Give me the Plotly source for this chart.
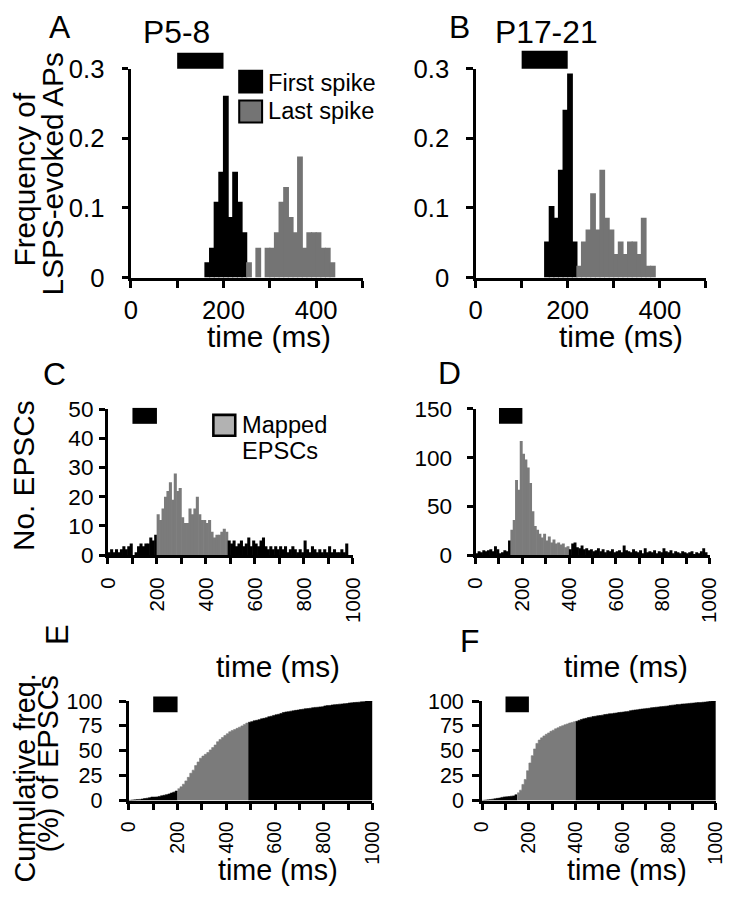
import numpy as np
import plotly.graph_objects as go

FONT = "Liberation Sans, Arial, Helvetica, sans-serif"
W, H = 731, 899

# ---------------- data ----------------
BIN = 10  # ms
stim_on, stim_off = 100, 200

A_first_centers = [165, 175, 185, 195, 205, 215, 225, 235, 245]
A_first_freq = [0.022, 0.043, 0.109, 0.152, 0.261, 0.087, 0.152, 0.109, 0.065]
A_last_centers = [255, 265, 275, 285, 295, 305, 315, 325, 335, 345,
                  355, 365, 375, 385, 395, 405, 415, 425, 435]
A_last_freq = [0.022, 0.0, 0.043, 0.0, 0.043, 0.043, 0.065, 0.109, 0.130, 0.087,
               0.065, 0.174, 0.043, 0.065, 0.065, 0.065, 0.043, 0.043, 0.022]

B_first_centers = [155, 165, 175, 185, 195, 205, 215]
B_first_freq = [0.052, 0.103, 0.086, 0.155, 0.241, 0.293, 0.052]
B_last_centers = [225, 235, 245, 255, 265, 275, 285, 295, 305, 315,
                  325, 335, 345, 355, 365, 375, 385]
B_last_freq = [0.017, 0.052, 0.069, 0.121, 0.069, 0.155, 0.086, 0.069, 0.034, 0.052,
               0.034, 0.052, 0.052, 0.034, 0.086, 0.017, 0.017]

C_pre_start, C_map_start, C_post_start = 0, 200, 490
C_pre = [1, 2, 1, 2, 1, 2, 3, 2, 3, 4, 0, 1, 3, 4, 3, 4, 4, 6, 5, 7]
C_map = [14, 12, 16, 20, 22, 25, 19, 28, 22, 23, 13, 11, 11, 16, 14, 16, 20, 14, 12, 12,
         11, 12, 8, 6, 7, 7, 8, 9, 8]
C_post = [5, 4, 5, 3, 4, 5, 3, 4, 6, 3, 5, 4, 3, 5, 6, 3, 2, 3, 2, 3,
          2, 3, 2, 3, 1, 2, 3, 2, 1, 2, 1, 5, 2, 1, 3, 2, 1, 2, 1, 2,
          1, 3, 1, 2, 1, 1, 2, 1, 4, 0, 0]

D_pre_start, D_map_start, D_post_start = 0, 150, 400
D_pre = [2, 4, 3, 5, 4, 5, 6, 4, 9, 6, 2, 3, 5, 4, 15]
D_map = [26, 36, 77, 67, 117, 104, 98, 90, 74, 45, 30, 26, 22, 18, 22, 15, 19, 13, 16, 12,
         13, 11, 12, 8, 9]
D_post = [6, 12, 13, 8, 7, 10, 6, 7, 5, 6, 4, 5, 7, 4, 6, 3, 5, 4, 6, 3,
          4, 5, 3, 10, 5, 4, 3, 6, 4, 3, 5, 2, 7, 3, 4, 3, 5, 2, 4, 3,
          7, 4, 3, 5, 2, 4, 3, 2, 4, 3, 2, 3, 4, 1, 3, 2, 4, 7, 3, 0]

ticks_500 = [0, 100, 200, 300, 400, 500]
ticks_500_txt = ["0", "", "200", "", "400", ""]
ticks_1000 = list(range(0, 1001, 100))
ticks_1000_txt = [str(v) if v % 200 == 0 else "" for v in ticks_1000]

BLACK = "#000000"
GRAY_AP = "#747474"
GRAY_EP = "#7b7b7b"
GRAY_LEG = "#b2b2b2"
BAR_W = BIN * 1.25

# the photographed page appears slightly shrunk about its centre; layout is
# specified in target-picture pixels and mapped back onto the page.
S, OX, OY = 0.974, 10.5, 11.0


def rx(x):
    return (x - OX) / S


def ry(y):
    return (y - OY) / S


def fs(v):
    return v / S


def px(x):
    return rx(x) / W


def py(y):
    return 1 - ry(y) / H


def centers(start, n):
    return [start + BIN * i + BIN / 2 for i in range(n)]


fig = go.Figure()


def bars(x, y, color, xa, ya):
    fig.add_trace(go.Bar(x=x, y=y, width=BAR_W, marker=dict(color=color, line=dict(width=0)),
                         xaxis=xa, yaxis=ya, showlegend=False, hoverinfo="skip"))


def step_area(start, vals, color, xa, ya):
    edges = [start + BIN * i for i in range(len(vals) + 1)]
    yv = list(vals) + [vals[-1]]
    fig.add_trace(go.Scatter(x=edges, y=yv, mode="lines",
                             line=dict(width=0.6, shape="hv", color=color),
                             fill="tozeroy", fillcolor=color, xaxis=xa, yaxis=ya,
                             showlegend=False, hoverinfo="skip"))


bars(A_first_centers, A_first_freq, BLACK, "x", "y")
bars(A_last_centers, A_last_freq, GRAY_AP, "x", "y")
bars(B_first_centers, B_first_freq, BLACK, "x2", "y2")
bars(B_last_centers, B_last_freq, GRAY_AP, "x2", "y2")
bars(centers(C_pre_start, len(C_pre)), C_pre, BLACK, "x3", "y3")
bars(centers(C_map_start, len(C_map)), C_map, GRAY_EP, "x3", "y3")
bars(centers(C_post_start, len(C_post)), C_post, BLACK, "x3", "y3")
bars(centers(D_pre_start, len(D_pre)), D_pre, BLACK, "x4", "y4")
bars(centers(D_map_start, len(D_map)), D_map, GRAY_EP, "x4", "y4")
bars(centers(D_post_start, len(D_post)), D_post, BLACK, "x4", "y4")


# E, F: cumulative frequency (%) of the C / D histograms
def cumulative(pre, mapped, post, xa, ya, pre_start, map_start, post_start):
    allc = np.array(pre + mapped + post, dtype=float)
    cum = np.cumsum(allc) / allc.sum() * 100
    n1, n2 = len(pre), len(pre) + len(mapped)
    step_area(pre_start, list(cum[:n1]), BLACK, xa, ya)
    step_area(map_start, list(cum[n1:n2]), GRAY_EP, xa, ya)
    step_area(post_start, list(cum[n2:]), BLACK, xa, ya)


cumulative(C_pre, C_map, C_post, "x5", "y5", C_pre_start, C_map_start, C_post_start)
cumulative(D_pre, D_map, D_post, "x6", "y6", D_pre_start, D_map_start, D_post_start)


def xaxis(dom, rng, tv, tt, size, tlen, lw, anchor, angle=0, standoff=2):
    return dict(domain=[px(dom[0]), px(dom[1])], range=rng, tickvals=tv, ticktext=tt,
                ticks="outside", ticklen=fs(tlen), tickwidth=fs(lw), tickcolor="black",
                showline=True, linewidth=fs(lw), linecolor="black", showgrid=False,
                zeroline=False, anchor=anchor, tickangle=angle,
                ticklabelstandoff=int(round(fs(standoff))),
                tickfont=dict(size=fs(size), family=FONT, color="black"), fixedrange=True)


def yaxis(dom, rng, tv, tt, size, tlen, lw, anchor, standoff=2):
    return dict(domain=[py(dom[1]), py(dom[0])], range=rng, tickvals=tv, ticktext=tt,
                ticks="outside", ticklen=fs(tlen), tickwidth=fs(lw), tickcolor="black",
                showline=True, linewidth=fs(lw), linecolor="black", showgrid=False,
                zeroline=False, anchor=anchor, ticklabelstandoff=int(round(fs(standoff))),
                tickfont=dict(size=fs(size), family=FONT, color="black"), fixedrange=True)


yt_ap = [0, 0.1, 0.2, 0.3]
yt_ap_txt = ["0", "0.1", "0.2", "0.3"]

fig.update_layout(
    xaxis=xaxis((130, 363), [0, 500], ticks_500, ticks_500_txt, 25, 7, 3, "y", standoff=0),
    yaxis=yaxis((66, 276), [0, 0.3], yt_ap, yt_ap_txt, 25, 6, 3, "x", standoff=12),
    xaxis2=xaxis((476.7, 708.3), [0, 500], ticks_500, ticks_500_txt, 25, 7, 3, "y2", standoff=0),
    yaxis2=yaxis((66, 276), [0, 0.3], yt_ap, yt_ap_txt, 25, 6, 3, "x2", standoff=12),
    xaxis3=xaxis((107, 353.3), [0, 1000], ticks_1000, ticks_1000_txt, 20, 6, 2.5, "y3", -90, 5),
    yaxis3=yaxis((408.3, 555), [0, 50], [0, 10, 20, 30, 40, 50],
                 ["0", "10", "20", "30", "40", "50"], 22, 6, 2.5, "x3", 1),
    xaxis4=xaxis((476.7, 712), [0, 1000], ticks_1000, ticks_1000_txt, 20, 6, 2.5, "y4", -90, 5),
    yaxis4=yaxis((408, 555), [0, 150], [0, 50, 100, 150], ["0", "50", "100", "150"],
                 22, 6, 2.5, "x4", 10),
    xaxis5=xaxis((128, 373), [0, 1000], ticks_1000, ticks_1000_txt, 19, 7, 2.5, "y5", -90, 3),
    yaxis5=yaxis((701.7, 801.7), [0, 100], [0, 25, 50, 75, 100],
                 ["0", "25", "50", "75", "100"], 21, 7, 2.5, "x5", 12),
    xaxis6=xaxis((483.3, 718.3), [0, 1000], ticks_1000, ticks_1000_txt, 19, 7, 2.5, "y6", -90, 3),
    yaxis6=yaxis((701.7, 801.7), [0, 100], [0, 25, 50, 75, 100],
                 ["0", "25", "50", "75", "100"], 21, 7, 2.5, "x6", 4),
    barmode="overlay",
    width=W, height=H,
    margin=dict(l=0, r=0, t=0, b=0),
    paper_bgcolor="white", plot_bgcolor="white",
    showlegend=False,
    font=dict(family=FONT, color="black"),
)

stim_rows = [("x", 50, 66), ("x2", 48, 66), ("x3", 407, 423), ("x4", 407, 423),
             ("x5", 697, 713), ("x6", 697, 713)]
shapes = []
for xa, top, bot in stim_rows:
    shapes.append(dict(type="rect", xref=xa, yref="paper", x0=stim_on, x1=stim_off,
                       y0=py(bot), y1=py(top), fillcolor="black", line=dict(width=0)))


def swatch(x0, x1, top, bot, color, lw):
    shapes.append(dict(type="rect", xref="paper", yref="paper", x0=px(x0), x1=px(x1),
                       y0=py(bot), y1=py(top), fillcolor=color,
                       line=dict(color="black", width=fs(lw))))


swatch(239, 262, 68, 90, BLACK, 2)
swatch(239, 262, 98, 120, GRAY_AP, 2)
swatch(213, 235, 414, 435, GRAY_LEG, 2.5)
fig.update_layout(shapes=shapes)


def txt(s, x, y, size, angle=0, xanchor="center", page=False):
    xx = x / W if page else px(x)
    yy = (1 - y / H) if page else py(y)
    fig.add_annotation(text=s, x=xx, y=yy, xref="paper", yref="paper",
                       showarrow=False, textangle=angle, xanchor=xanchor, yanchor="middle",
                       font=dict(size=fs(size), family=FONT, color="black"))


txt("A", 59, 24, 31)
txt("P5-8", 176, 29, 31)
txt("B", 461, 24, 31)
txt("P17-21", 548, 29, 31)
txt("C", 53, 373, 31)
txt("D", 450, 372, 31)
txt("E", 56, 635, 30, angle=-90)
txt("F", 471, 641, 31)

for (x, y) in [(269, 335), (623, 335), (278, 667), (628, 667)]:
    txt("time (ms)", x, y, 29)
# bottom titles sit at the lower page edge
for x in (278, 629):
    txt("time (ms)", rx(x), 884, 28, page=True)
txt("Frequency of", 23, 177, 29, angle=-90)
txt("LSPS-evoked APs", 51, 172, 29, angle=-90)
txt("No. EPSCs", 22, 475, 29, angle=-90)
txt("Cumulative freq.", 13, ry(779), 28, angle=-90, page=True)
txt("(%) of EPSCs", rx(47), ry(765), 28, angle=-90, page=True)

txt("First spike", 266, 80, 23, xanchor="left")
txt("Last spike", 266, 109, 23, xanchor="left")
txt("Mapped", 240, 424, 23, xanchor="left")
txt("EPSCs", 240, 450, 23, xanchor="left")

fig.write_html(
    "out.html",
    config={"displayModeBar": False},
    post_script="document.body.style.margin='0';document.body.style.overflow='hidden';",
)
